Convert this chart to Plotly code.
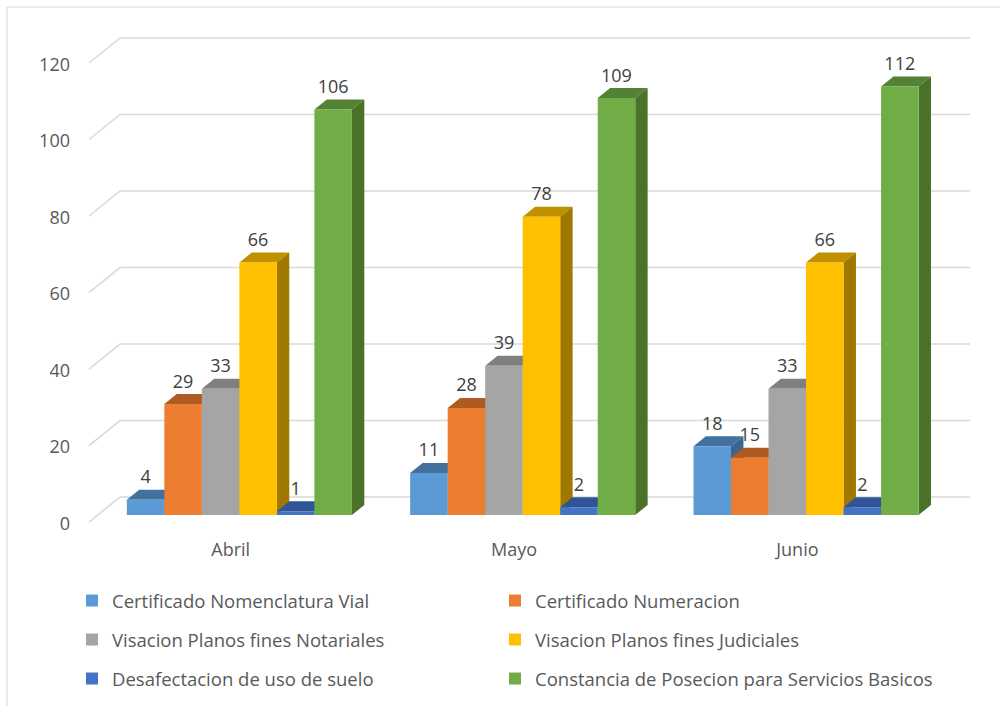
import plotly.graph_objects as go

# ---------------- data ----------------
months = ["Abril", "Mayo", "Junio"]
series_names = [
    "Certificado Nomenclatura Vial",
    "Certificado Numeracion",
    "Visacion Planos fines Notariales",
    "Visacion Planos fines Judiciales",
    "Desafectacion de uso de suelo",
    "Constancia de Posecion para Servicios Basicos",
]
cert_nomenclatura = [4, 11, 18]
cert_numeracion = [29, 28, 15]
visacion_notariales = [33, 39, 33]
visacion_judiciales = [66, 78, 66]
desafectacion = [1, 2, 2]
constancia = [106, 109, 112]
series_values = [cert_nomenclatura, cert_numeracion, visacion_notariales,
                 visacion_judiciales, desafectacion, constancia]
y_ticks = [0, 20, 40, 60, 80, 100, 120]

# ---------------- style ----------------
front_colors = ["#5B9BD5", "#ED7D31", "#A5A5A5", "#FFC000", "#4472C4", "#70AD47"]
top_colors = ["#41719C", "#AE5A21", "#7F7F7F", "#BF9000", "#2F5597", "#548235"]
side_colors = ["#3A6690", "#9C4F1C", "#737373", "#A07800", "#2A4D88", "#4A7229"]
FONT = "Open Sans"
AXIS_TXT = "#595959"
LABEL_TXT = "#404040"
GRID = "#D9D9D9"

# oblique 3D projection parameters (axis units)
DEPTH_X, DEPTH_Y = 0.1094, 6.536      # full floor depth
BAR_FRONT, BAR_DEPTH = 0.28, 0.40     # bar position / thickness in depth
BAR_W = 0.1324
GRID_RIGHT = 2.5
X_RANGE = [-0.8142, 2.7152]
Y_RANGE = [-49.93, 134.64]

fig = go.Figure()
shapes = []

# gridlines (floor-left diagonal + back wall horizontal)
for v in y_ticks:
    yf = v - BAR_FRONT * DEPTH_Y
    yb = v + (1 - BAR_FRONT) * DEPTH_Y
    xb = -0.5 + DEPTH_X
    shapes.append(dict(type="path", xref="x", yref="y", layer="below",
                       path=f"M{-0.5},{yf} L{xb},{yb} L{GRID_RIGHT + DEPTH_X},{yb}",
                       line=dict(color=GRID, width=1.6)))

bdx = BAR_DEPTH * DEPTH_X
bdy = BAR_DEPTH * DEPTH_Y
x_shift = BAR_FRONT * DEPTH_X
n = len(series_names)
legend_ids = ["legend", "legend2", "legend3", "legend4", "legend5", "legend6"]

lab_x, lab_y, lab_t = [], [], []
for s, (name, vals) in enumerate(zip(series_names, series_values)):
    xs = [g + x_shift + (s - (n - 1) / 2) * BAR_W for g in range(len(months))]
    fig.add_trace(go.Bar(
        x=xs, y=vals, width=BAR_W, name=name,
        marker=dict(color=front_colors[s], line=dict(width=0)),
        legend=legend_ids[s], showlegend=True,
        hovertemplate=name + ": %{y}<extra></extra>",
    ))
    for x, v in zip(xs, vals):
        xl, xr = x - BAR_W / 2, x + BAR_W / 2
        # top face
        shapes.append(dict(type="path", xref="x", yref="y", layer="below",
                           path=f"M{xl},{v} L{xl + bdx},{v + bdy} L{xr + bdx},{v + bdy} L{xr},{v} Z",
                           fillcolor=top_colors[s], line=dict(width=0)))
        # side face
        shapes.append(dict(type="path", xref="x", yref="y", layer="below",
                           path=f"M{xr},0 L{xr},{v} L{xr + bdx},{v + bdy} L{xr + bdx},{bdy} Z",
                           fillcolor=side_colors[s], line=dict(width=0)))
        lab_x.append(x)
        lab_y.append(v + 5.5)
        lab_t.append(str(v))

fig.add_trace(go.Scatter(
    x=lab_x, y=lab_y, text=lab_t, mode="text", textposition="middle center",
    textfont=dict(family=FONT, size=18, color=LABEL_TXT),
    showlegend=False, hoverinfo="skip",
))

# chart border
shapes.append(dict(type="rect", xref="paper", yref="paper",
                   x0=0.007, x1=1.05, y0=-0.05, y1=(706 - 7) / 706,
                   line=dict(color=GRID, width=1.2), fillcolor="rgba(0,0,0,0)", layer="below"))

legend_common = dict(orientation="v", xanchor="left", yanchor="middle", itemwidth=30,
                     bgcolor="rgba(0,0,0,0)",
                     font=dict(family=FONT, size=18.5, color=AXIS_TXT))
legend_cols = [0.072, 0.495]
legend_rows = [601, 640, 679]
legend_layout = {}
for s, lid in enumerate(legend_ids):
    legend_layout[lid] = dict(x=legend_cols[s % 2], y=(706 - legend_rows[s // 2]) / 706,
                              **legend_common)

fig.update_layout(
    width=1000, height=706,
    margin=dict(l=0, r=0, t=0, b=0),
    paper_bgcolor="white", plot_bgcolor="white",
    barmode="overlay",
    shapes=shapes,
    xaxis=dict(range=X_RANGE, domain=[0, 1], anchor="free", position=(706 - 522) / 706,
               tickvals=list(range(len(months))), ticktext=months,
               showgrid=False, zeroline=False, showline=False, ticks="",
               ticklabelstandoff=15,
               tickfont=dict(family=FONT, size=18, color=AXIS_TXT), fixedrange=True),
    yaxis=dict(range=Y_RANGE, domain=[0, 1], anchor="free", position=0.089,
               tickvals=[v - BAR_FRONT * DEPTH_Y - 0.4 for v in y_ticks],
               ticktext=[str(v) for v in y_ticks],
               showgrid=False, zeroline=False, showline=False, ticks="",
               ticklabelstandoff=19,
               tickfont=dict(family=FONT, size=18, color=AXIS_TXT), fixedrange=True),
    showlegend=True,
    **legend_layout,
)

fig.write_html("out.html",
               config={"displayModeBar": False},
               post_script="document.body.style.margin='0';document.body.style.overflow='hidden';")
